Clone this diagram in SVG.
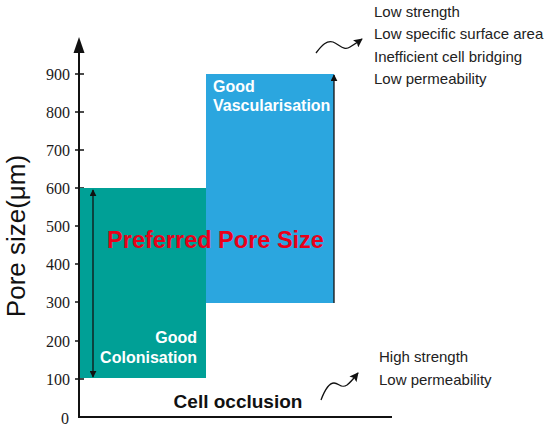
<svg xmlns="http://www.w3.org/2000/svg" width="550" height="430" viewBox="0 0 550 430">
<style>
.tick{font-family:"Liberation Serif","Times New Roman",serif;font-size:16px;fill:#1a1a1a;text-anchor:end}
.note{font-family:"Liberation Sans",Arial,sans-serif;font-size:15px;fill:#222}
.wb{font-family:"Liberation Sans",Arial,sans-serif;font-size:16px;font-weight:bold;fill:#fff}
.ax{stroke:#111;stroke-width:2;fill:none}
.thin{stroke:#111;stroke-width:1.3;fill:none}
</style>
<defs>
<marker id="ah" viewBox="0 0 10 10" refX="9" refY="5" markerWidth="7" markerHeight="7" orient="auto-start-reverse" markerUnits="userSpaceOnUse">
<path d="M0,0 L10,5 L0,10 Z" fill="#111"/>
</marker>
<marker id="ah2" viewBox="0 0 10 10" refX="9" refY="5" markerWidth="9" markerHeight="9" orient="auto" markerUnits="userSpaceOnUse">
<path d="M0,0 L10,5 L0,10 L2,5 Z" fill="#111"/>
</marker>
</defs>
<g id="axes">
<path class="thin" d="M75,74 H84 M75,112 H84 M75,150 H84 M75,188 H84 M75,226 H84 M75,264 H84 M75,302 H84 M75,341 H84 M75,379 H84"/>
<path class="ax" d="M79,417 V50"/>
<path d="M79,37 L73.5,53 L84.5,53 Z" fill="#111"/>
<path class="ax" d="M78,417 H392"/>
<text class="tick" x="70" y="80">900</text>
<text class="tick" x="70" y="118">800</text>
<text class="tick" x="70" y="156">700</text>
<text class="tick" x="70" y="194">600</text>
<text class="tick" x="70" y="232">500</text>
<text class="tick" x="70" y="270">400</text>
<text class="tick" x="70" y="308">300</text>
<text class="tick" x="70" y="347">200</text>
<text class="tick" x="70" y="385">100</text>
<text class="tick" x="69" y="424">0</text>
<text transform="translate(25,236) rotate(-90)" text-anchor="middle" font-family="Liberation Sans,Arial,sans-serif" font-size="26" fill="#111">Pore size(μm)</text>
<text x="238" y="408" text-anchor="middle" font-family="Liberation Sans,Arial,sans-serif" font-size="19" font-weight="bold" fill="#111">Cell occlusion</text>
</g>
<g id="colonisation">
<rect x="80" y="188" width="126" height="190" fill="#00a096"/>
<text class="wb" x="197" y="343" text-anchor="end">Good</text>
<text class="wb" x="197" y="363" text-anchor="end">Colonisation</text>
</g>
<g id="vascularisation">
<rect x="206" y="74" width="128" height="229" fill="#2ba6df"/>
<text class="wb" x="213" y="92">Good</text>
<text class="wb" x="213" y="111">Vascularisation</text>
</g>
<g id="preferred">
<text x="215.5" y="248" text-anchor="middle" font-family="Liberation Sans,Arial,sans-serif" font-size="23.5" font-weight="bold" fill="#e8001a">Preferred Pore Size</text>
</g>
<g id="connectors">
<path class="thin" d="M93,190 V377" marker-start="url(#ah)" marker-end="url(#ah)"/>
<path class="thin" d="M334,303 V75" marker-end="url(#ah)"/>
<path class="thin" d="M316,53 C322,45 327,40 333,42 C340,45 344,51 350,47 C355,44 358,42 362,39" marker-end="url(#ah2)"/>
<path class="thin" d="M321,400 C324,392 328,383 334,383 C339,383 341,389 347,385 C351,382 354,378 358,373" marker-end="url(#ah2)"/>
</g>
<g id="notes-top">
<text class="note" x="374" y="17">Low strength</text>
<text class="note" x="374" y="39">Low specific surface area</text>
<text class="note" x="374" y="62">Inefficient cell bridging</text>
<text class="note" x="374" y="84">Low permeability</text>
</g>
<g id="notes-bottom">
<text class="note" x="379" y="362">High strength</text>
<text class="note" x="379" y="385">Low permeability</text>
</g>
</svg>
